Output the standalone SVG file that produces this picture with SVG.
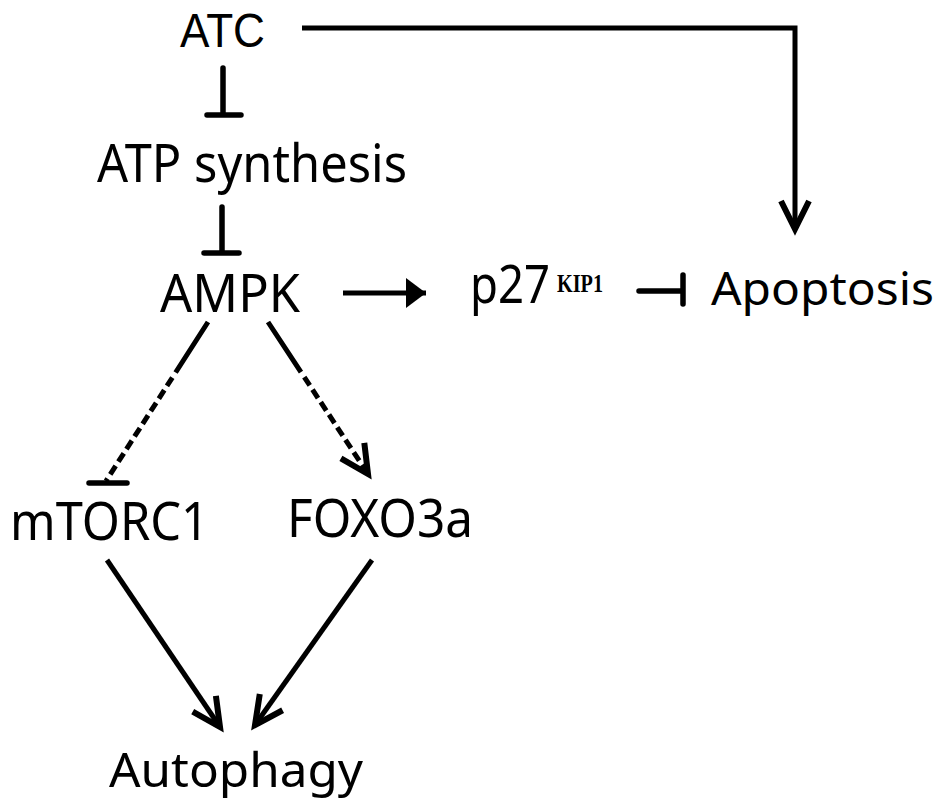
<svg xmlns="http://www.w3.org/2000/svg" width="945" height="812" viewBox="0 0 945 812">
<defs>
<style>
.lbl{font-family:"Noto Sans","Liberation Sans",sans-serif;fill:#000;}
.ln{stroke:#000;stroke-width:5;fill:none;stroke-linecap:butt;}
.bar{stroke:#000;stroke-width:5.5;fill:none;stroke-linecap:round;}
</style>
<marker id="open" markerUnits="userSpaceOnUse" markerWidth="40" markerHeight="40" refX="0" refY="0" viewBox="-25 -15 30 30" orient="auto" overflow="visible">
<path d="M-21,-10.5 L0,0 L-21,10.5" fill="none" stroke="#000" stroke-width="4.5" stroke-linejoin="miter"/>
</marker>
<marker id="solid" markerUnits="userSpaceOnUse" markerWidth="40" markerHeight="40" refX="0" refY="0" viewBox="-25 -20 30 40" orient="auto" overflow="visible">
<path d="M-20,-15 L0,0 L-20,15 Z" fill="#000"/>
</marker>
</defs>
<rect width="945" height="812" fill="#fff"/>
<g id="connectors">
<path class="bar" d="M223,68 V114 M207,115 H241"/>
<path class="bar" d="M222,207 V252 M204,253 H239"/>
<path class="ln" d="M302,28 H795 V229" marker-end="url(#open)"/>
<path class="ln" d="M343,293 H426" marker-end="url(#solid)"/>
<path class="bar" d="M639,291 H682 M683,275 V304"/>
<path class="ln" d="M208,322 L106,481" stroke-dasharray="60 6 10 5 10 5 10 5 10 5 10 5 10 5 10 5 10 5 300"/>
<path class="bar" d="M89,483 H127" stroke-width="5" stroke-linecap="butt"/>
<path class="ln" d="M268,322 L368,474" stroke-dasharray="60 6 10 5 10 5 10 5 10 5 10 5 10 5 10 5 10 5 300" marker-end="url(#open)"/>
<path class="ln" d="M107,560 L220,727" marker-end="url(#open)"/>
<path class="ln" d="M372,560 L255,725" marker-end="url(#open)"/>
</g>
<g id="node-atc"><text x="180" y="47" font-family="Liberation Sans, Arial, sans-serif" font-size="49" textLength="85" lengthAdjust="spacingAndGlyphs">ATC</text></g>
<g id="node-atp"><text class="lbl" x="97" y="182" font-size="52" textLength="310" lengthAdjust="spacingAndGlyphs">ATP synthesis</text></g>
<g id="node-ampk"><text class="lbl" x="160" y="312" font-size="53" textLength="140" lengthAdjust="spacingAndGlyphs">AMPK</text></g>
<g id="node-p27"><text class="lbl" x="470" y="303" font-size="52"><tspan x="470" y="303" textLength="80" lengthAdjust="spacingAndGlyphs">p27</tspan><tspan x="557" y="292" font-family="Liberation Serif, serif" font-weight="bold" font-size="25" textLength="46" lengthAdjust="spacingAndGlyphs">KIP1</tspan></text></g>
<g id="node-apoptosis"><text class="lbl" x="711" y="305" font-size="46" textLength="223" lengthAdjust="spacingAndGlyphs">Apoptosis</text></g>
<g id="node-mtorc1"><text class="lbl" x="10" y="540" font-size="53" textLength="199" lengthAdjust="spacingAndGlyphs">mTORC1</text></g>
<g id="node-foxo3a"><text class="lbl" x="287" y="537" font-size="53" textLength="186" lengthAdjust="spacingAndGlyphs">FOXO3a</text></g>
<g id="node-autophagy"><text class="lbl" x="109" y="787" font-size="48" textLength="254" lengthAdjust="spacingAndGlyphs">Autophagy</text></g>
</svg>
